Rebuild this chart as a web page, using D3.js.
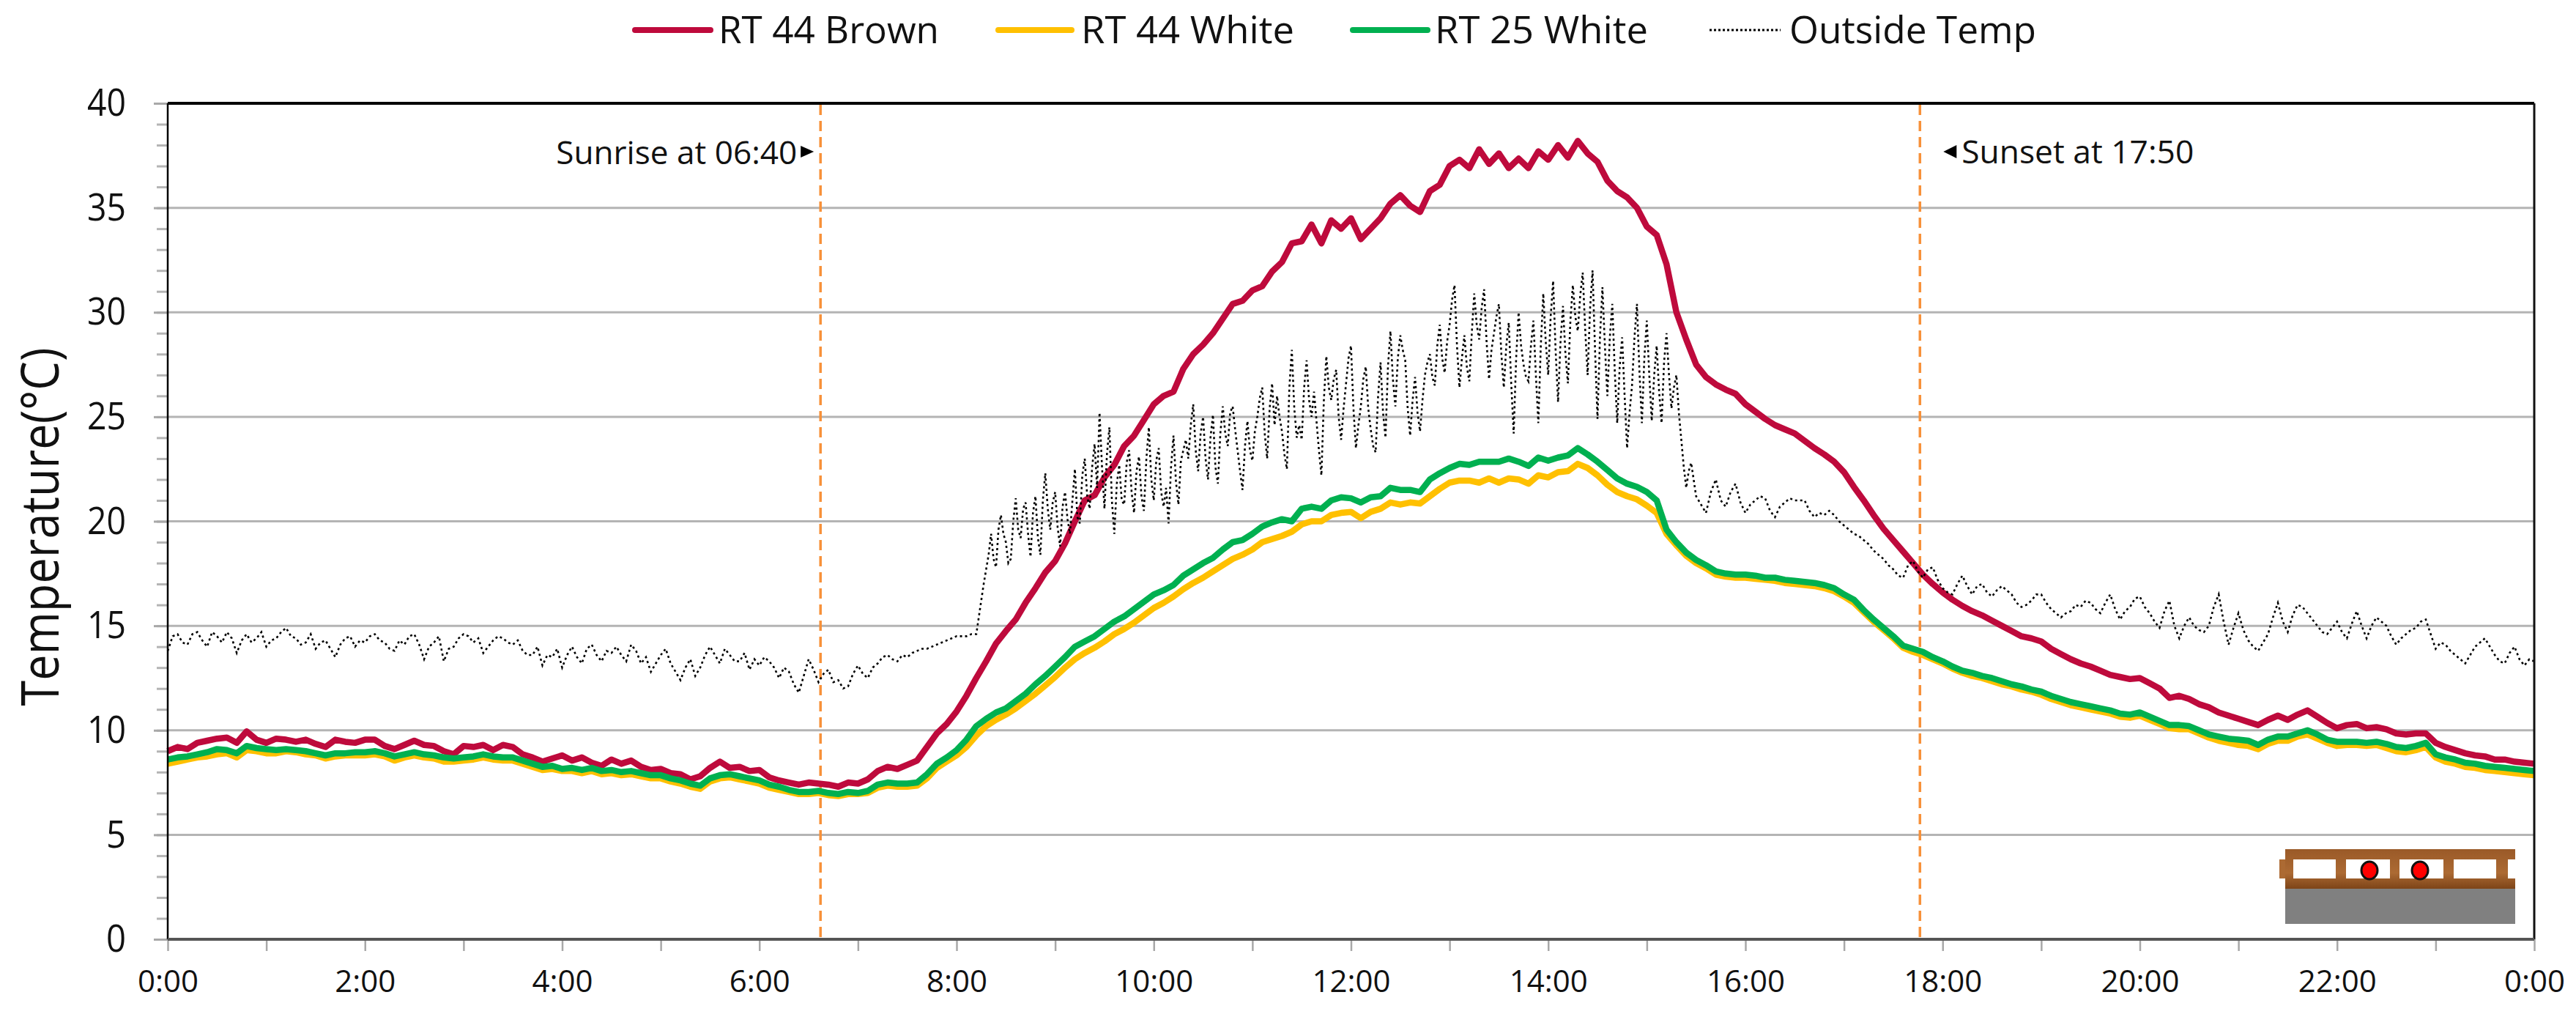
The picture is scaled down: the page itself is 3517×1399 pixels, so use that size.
<!DOCTYPE html>
<html>
<head>
    <meta charset="utf-8">
    <script src="https://d3js.org/d3.v7.min.js"></script>
    <style>
        html, body { margin: 0; padding: 0; background: #fff; }
        svg { display: block; }
        text { font-family: "Open Sans", sans-serif; fill: #111; }
    </style>
</head>
<body>
    <svg id="chart" width="3517" height="1399"></svg>
    <script>
        // values, one row = one hour, 6 minute steps
        var brown = [
            9.0,9.2,9.1,9.4,9.5,9.6,9.65,9.4,9.95,9.55,
            9.4,9.6,9.55,9.45,9.55,9.35,9.2,9.55,9.45,9.4,
            9.55,9.55,9.25,9.1,9.3,9.5,9.3,9.25,9.0,8.85,
            9.25,9.2,9.3,9.05,9.3,9.2,8.85,8.7,8.5,8.65,
            8.8,8.55,8.7,8.45,8.3,8.6,8.4,8.55,8.25,8.1,
            8.15,7.95,7.9,7.65,7.8,8.2,8.5,8.2,8.25,8.05,
            8.1,7.75,7.6,7.5,7.4,7.5,7.45,7.4,7.3,7.5,
            7.45,7.65,8.05,8.25,8.15,8.35,8.55,9.2,9.85,10.3,
            10.9,11.65,12.5,13.3,14.15,14.75,15.3,16.1,16.8,17.55,
            18.1,18.95,20.0,21.0,21.25,22.1,22.7,23.6,24.1,24.85,
            25.6,26.0,26.2,27.3,28.0,28.45,29.0,29.7,30.4,30.55,
            31.05,31.25,31.95,32.4,33.3,33.4,34.2,33.3,34.4,34.0,
            34.5,33.5,34.0,34.5,35.2,35.6,35.1,34.8,35.8,36.1,
            37.0,37.3,36.9,37.8,37.1,37.6,36.9,37.35,36.9,37.7,
            37.3,38.0,37.4,38.2,37.6,37.2,36.3,35.8,35.5,35.0,
            34.1,33.7,32.3,30.0,28.7,27.5,26.9,26.55,26.3,26.1,
            25.6,25.25,24.9,24.6,24.4,24.2,23.85,23.5,23.2,22.85,
            22.35,21.65,21.0,20.3,19.65,19.1,18.55,18.0,17.45,17.0,
            16.6,16.25,15.95,15.7,15.5,15.25,15.0,14.75,14.5,14.4,
            14.25,13.9,13.65,13.4,13.2,13.05,12.85,12.65,12.55,12.45,
            12.5,12.25,12.0,11.55,11.65,11.5,11.25,11.1,10.85,10.7,
            10.55,10.4,10.25,10.5,10.7,10.5,10.75,10.95,10.65,10.35,
            10.1,10.25,10.3,10.1,10.15,10.05,9.85,9.8,9.85,9.85,
            9.4,9.2,9.05,8.9,8.8,8.75,8.6,8.6,8.5,8.45,
            8.4
        ];
        var white44 = [
            8.4,8.5,8.6,8.7,8.75,8.85,8.9,8.7,9.05,9.0,
            8.9,8.9,9.0,8.95,8.85,8.8,8.65,8.75,8.8,8.8,
            8.8,8.85,8.75,8.55,8.7,8.8,8.7,8.65,8.5,8.5,
            8.55,8.6,8.7,8.6,8.55,8.55,8.4,8.25,8.1,8.15,
            8.05,8.05,7.95,8.05,7.9,7.95,7.85,7.9,7.8,7.7,
            7.7,7.55,7.45,7.3,7.2,7.55,7.7,7.75,7.65,7.55,
            7.45,7.25,7.15,7.05,6.95,6.95,7.0,6.9,6.85,6.95,
            6.95,7.0,7.25,7.35,7.3,7.3,7.35,7.7,8.2,8.5,
            8.8,9.2,9.75,10.2,10.5,10.75,11.05,11.4,11.75,12.15,
            12.55,13.0,13.4,13.7,13.95,14.25,14.6,14.85,15.15,15.5,
            15.85,16.1,16.4,16.75,17.05,17.3,17.6,17.9,18.2,18.4,
            18.65,19.0,19.15,19.3,19.5,19.85,20.0,20.0,20.3,20.4,
            20.45,20.15,20.45,20.6,20.9,20.8,20.9,20.85,21.2,21.55,
            21.85,21.95,21.95,21.85,22.05,21.85,22.05,22.0,21.8,22.2,
            22.1,22.35,22.4,22.75,22.55,22.2,21.75,21.4,21.2,21.05,
            20.75,20.4,19.4,18.85,18.35,18.0,17.75,17.45,17.35,17.3,
            17.3,17.25,17.2,17.15,17.05,17.0,16.95,16.9,16.8,16.65,
            16.4,16.1,15.65,15.2,14.8,14.4,13.95,13.75,13.6,13.4,
            13.2,12.95,12.75,12.6,12.5,12.35,12.2,12.1,11.95,11.85,
            11.7,11.5,11.35,11.2,11.1,11.0,10.9,10.8,10.65,10.6,
            10.7,10.5,10.3,10.1,10.05,10.05,9.85,9.65,9.5,9.4,
            9.3,9.25,9.1,9.35,9.5,9.5,9.7,9.8,9.6,9.4,
            9.25,9.3,9.3,9.25,9.3,9.15,9.0,8.95,9.05,9.2,
            8.7,8.5,8.4,8.25,8.2,8.1,8.05,8.0,7.95,7.9,
            7.85
        ];
        var white25 = [
            8.6,8.7,8.75,8.85,8.95,9.1,9.05,8.9,9.25,9.15,
            9.1,9.05,9.1,9.05,9.0,8.9,8.8,8.9,8.9,8.95,
            8.95,9.0,8.9,8.75,8.85,8.95,8.85,8.8,8.7,8.65,
            8.7,8.75,8.85,8.75,8.7,8.7,8.55,8.4,8.25,8.3,
            8.15,8.2,8.1,8.2,8.05,8.1,8.0,8.05,7.95,7.85,
            7.85,7.7,7.6,7.45,7.35,7.7,7.85,7.9,7.8,7.7,
            7.6,7.4,7.3,7.15,7.05,7.05,7.1,7.0,6.95,7.05,
            7.0,7.1,7.4,7.5,7.45,7.45,7.5,7.9,8.4,8.7,
            9.05,9.55,10.2,10.55,10.85,11.05,11.4,11.75,12.2,12.6,
            13.05,13.5,14.0,14.25,14.5,14.85,15.2,15.45,15.8,16.15,
            16.5,16.7,16.95,17.4,17.7,18.0,18.25,18.65,19.0,19.1,
            19.4,19.75,19.95,20.1,20.0,20.6,20.7,20.6,21.0,21.15,
            21.1,20.9,21.15,21.2,21.6,21.5,21.5,21.4,22.0,22.3,
            22.55,22.75,22.7,22.85,22.85,22.85,23.0,22.85,22.65,23.05,
            22.9,23.05,23.15,23.5,23.2,22.85,22.45,22.05,21.8,21.65,
            21.4,21.0,19.6,19.0,18.5,18.15,17.9,17.6,17.5,17.45,
            17.45,17.4,17.3,17.3,17.2,17.15,17.1,17.05,16.95,16.8,
            16.5,16.25,15.75,15.3,14.9,14.5,14.05,13.9,13.75,13.5,
            13.3,13.05,12.85,12.75,12.6,12.5,12.35,12.2,12.1,11.95,
            11.85,11.65,11.5,11.35,11.25,11.15,11.05,10.95,10.8,10.75,
            10.85,10.65,10.45,10.25,10.25,10.2,10.0,9.8,9.7,9.6,
            9.55,9.5,9.3,9.55,9.7,9.7,9.85,10.0,9.8,9.55,
            9.45,9.45,9.45,9.4,9.45,9.35,9.2,9.15,9.25,9.4,
            8.85,8.7,8.6,8.45,8.4,8.3,8.25,8.2,8.15,8.1,
            8.05
        ];

        // outside temp: night 0:00-8:12, about every 3 min
        var outsideNight = [
            13.8,14.5,14.6,14.2,14.1,14.6,14.7,14.3,14.0,14.7,14.5,14.2,14.7,14.4,13.7,14.3,14.6,14.2,14.4,14.7,
            14.0,14.3,14.4,14.7,14.9,14.5,14.4,14.1,14.2,14.6,13.9,14.2,14.3,13.9,13.5,14.1,14.4,14.5,14.0,14.3,
            14.2,14.5,14.6,14.3,14.2,13.9,13.8,14.3,14.1,14.5,14.6,14.1,13.4,14.0,14.2,14.5,13.3,13.9,14.0,14.4,
            14.6,14.5,14.2,14.4,13.7,14.0,14.3,14.5,14.4,14.2,14.1,14.3,13.8,13.6,13.6,14.0,13.1,13.6,13.5,13.9,
            13.0,13.6,14.0,13.5,13.2,13.9,14.1,13.6,13.3,13.8,13.7,14.0,13.6,13.3,14.1,13.8,13.2,13.5,12.8,13.2,
            13.6,13.9,13.2,12.8,12.4,13.0,13.4,12.6,13.0,13.6,14.0,13.6,13.2,13.9,13.6,13.3,13.3,13.7,12.9,13.4,
            13.1,13.5,13.3,13.0,12.5,13.0,12.8,12.2,11.8,12.6,13.4,12.9,12.3,12.7,12.9,12.3,12.4,12.0,12.1,12.7,
            13.1,12.7,12.5,13.0,13.2,13.5,13.6,13.4,13.3,13.6,13.5,13.7,13.8,13.9,13.9,14.0,14.1,14.2,14.3,14.4,
            14.5,14.5,14.5,14.6,14.6
        ];
        // daytime 8:15-15:30, about every 90 s, it swings a lot here
        var outsideDay = [
            16.2,17.0,17.7,18.4,19.4,18.2,17.8,19.6,20.3,19.4,19.0,18.0,18.2,20.0,21.1,19.6,19.2,20.6,20.9,19.4,
            18.3,20.4,21.2,19.2,18.4,21.0,22.3,20.6,19.6,20.9,21.4,19.7,18.8,20.7,21.4,20.1,19.4,21.0,22.5,20.2,
            19.9,22.2,23.0,21.2,20.6,22.6,23.7,21.6,25.2,22.6,20.6,23.2,24.5,21.0,19.4,21.8,22.7,21.0,20.8,22.8,
            23.4,21.4,20.4,22.4,23.1,21.2,20.5,23.0,24.5,22.0,21.0,22.9,23.5,21.4,20.7,21.6,19.9,22.6,24.1,21.9,
            20.8,22.9,23.4,23.9,23.0,24.6,25.6,23.4,22.4,24.2,25.0,23.0,22.0,24.0,25.1,22.6,21.8,24.2,25.5,24.2,
            23.6,25.2,25.5,24.4,23.4,22.4,21.5,23.6,24.8,23.4,22.9,24.3,25.0,25.9,26.4,24.2,23.0,25.4,26.6,24.6,
            26.0,25.0,24.3,23.2,22.5,26.4,28.2,25.4,24.0,24.6,23.9,26.4,27.7,25.8,25.0,26.2,24.8,23.4,22.2,25.8,
            27.9,26.4,25.8,26.8,27.25,25.0,23.9,25.4,26.6,27.8,28.4,25.4,23.5,24.6,25.5,26.8,27.4,25.4,24.4,23.6,
            23.3,26.0,27.6,25.2,24.0,27.4,29.1,26.8,25.5,27.8,28.9,28.2,27.7,25.4,24.1,25.8,26.9,25.2,24.3,25.8,
            27.0,27.6,28.0,26.9,26.5,28.4,29.4,27.8,27.1,28.6,29.4,30.6,31.3,28.4,26.4,27.8,28.9,27.4,26.7,29.0,
            30.9,29.4,28.7,30.2,31.1,28.6,26.8,28.2,29.0,29.8,30.4,28.0,26.4,28.4,29.5,26.6,24.2,27.8,30.0,28.4,
            27.5,26.9,26.7,28.4,29.6,27.0,24.7,28.4,30.9,28.6,27.0,29.8,31.5,28.2,25.7,28.6,30.3,28.0,26.6,29.6,
            31.3,29.8,29.1,30.8,31.9,29.2,27.0,30.2,32.0,28.2,24.9,28.8,31.2,28.4,26.0,28.8,30.4,27.2,24.7,27.4,
            28.8,26.0,23.5,25.2,26.5,28.8,30.4,27.2,24.7,27.8,29.6,27.0,24.8,27.0,28.4,26.2,24.7,27.6,29.0,27.0,
            25.4,26.4,27.0,25.2,23.9,22.6,21.6,22.4,22.8,22.0,21.2
        ];
        // evening 15:36-24:00, about every 3 min
        var outsideEvening = [
            20.4,21.4,22.0,21.0,20.7,21.4,21.8,20.9,20.4,20.8,21.0,21.2,21.1,20.5,20.2,20.7,20.9,21.1,21.0,21.0,
            21.0,20.5,20.2,20.4,20.3,20.5,20.3,20.0,19.8,19.6,19.4,19.3,19.1,18.9,18.6,18.4,18.2,17.9,17.7,17.4,
            17.3,17.9,18.1,17.6,17.3,17.7,17.8,17.2,16.8,16.6,16.5,17.0,17.4,16.9,16.5,16.9,17.0,16.6,16.4,16.7,
            16.9,16.7,16.5,16.1,15.9,16.0,16.2,16.5,16.5,16.1,15.8,15.6,15.4,15.6,15.7,16.0,15.9,16.2,16.1,15.8,
            15.6,16.1,16.5,15.8,15.3,15.7,15.9,16.3,16.4,15.9,15.6,15.2,14.9,15.7,16.2,15.0,14.4,15.0,15.4,15.0,
            14.8,14.7,15.0,15.9,16.5,15.2,14.1,14.9,15.6,14.8,14.3,14.0,13.8,14.2,14.6,15.4,16.1,15.2,14.7,15.5,
            16.0,15.9,15.6,15.3,15.0,14.7,14.6,14.9,15.2,14.7,14.4,15.1,15.7,15.0,14.4,15.0,15.4,15.2,15.0,14.5,
            14.1,14.4,14.6,14.8,14.9,15.2,15.3,14.6,13.9,14.2,14.1,13.8,13.6,13.4,13.2,13.6,14.0,14.2,14.4,14.0,
            13.6,13.3,13.2,13.7,14.0,13.4,13.1,13.4,13.3
        ];

        var seriesNames = ["RT 44 Brown", "RT 44 White", "RT 25 White", "Outside Temp"];
        var seriesColors = ["#BE0A3C", "#FFC000", "#00B050", "#000"];
        var yMajor = d3.range(0, 41, 5);
        var yMinor = d3.range(0, 41, 1);
        var xHours = d3.range(0, 25, 1);
        var sunriseHour = 6.62, sunsetHour = 17.77;

        var x = d3.scaleLinear().domain([0, 24]).range([229, 3460]);
        var y = d3.scaleLinear().domain([0, 40]).range([1282, 141]);

        var svg = d3.select("#chart");

        // gridlines
        svg.append("g").selectAll("line")
            .data(yMajor.filter(function(d) { return d > 0 && d < 40; }))
            .enter().append("line")
            .attr("x1", x(0)).attr("x2", x(24))
            .attr("y1", function(d) { return y(d); })
            .attr("y2", function(d) { return y(d); })
            .attr("stroke", "#b4b4b4").attr("stroke-width", 3);

        // y axis, minor then major
        var yMinorAxis = d3.axisLeft(y).tickValues(yMinor).tickSize(15).tickFormat("");
        var yMajorAxis = d3.axisLeft(y).tickValues(yMajor).tickSize(19).tickPadding(38);
        var gMinor = svg.append("g").attr("transform", "translate(229,0)").call(yMinorAxis);
        var gMajor = svg.append("g").attr("transform", "translate(229,0)").call(yMajorAxis);
        gMinor.select(".domain").remove();
        gMajor.select(".domain").remove();
        gMinor.selectAll("line").attr("stroke", "#b4b4b4").attr("stroke-width", 3);
        gMajor.selectAll("line").attr("stroke", "#a8a8a8").attr("stroke-width", 3);
        gMajor.selectAll("text")
            .style("font-family", '"Open Sans", sans-serif')
            .style("font-size", "52px")
            .attr("textLength", function(d) { return d < 10 ? 27 : 53; })
            .attr("lengthAdjust", "spacingAndGlyphs");

        // x axis
        var xAxis = d3.axisBottom(x).tickValues(xHours).tickSize(16).tickPadding(26)
            .tickFormat(function(d) { return d % 2 == 0 ? (d % 24) + ":00" : ""; });
        var gx = svg.append("g").attr("transform", "translate(0,1282)").call(xAxis);
        gx.select(".domain").remove();
        gx.selectAll("line").attr("stroke", "#a8a8a8").attr("stroke-width", 2.5);
        gx.selectAll("text")
            .style("font-family", '"Open Sans", sans-serif')
            .style("font-size", "42px");

        // sunrise, sunset
        [sunriseHour, sunsetHour].forEach(function(h) {
            svg.append("line")
                .attr("x1", x(h)).attr("x2", x(h))
                .attr("y1", 143).attr("y2", 1282)
                .attr("stroke", "#F79139").attr("stroke-width", 3.5)
                .attr("stroke-dasharray", "14 8");
        });
        svg.append("path")
            .attr("d", "M" + (x(sunriseHour) - 9) + ",207l-18,-8v16z")
            .attr("fill", "#000");
        svg.append("path")
            .attr("d", "M" + (x(sunsetHour) + 32) + ",207l18,-9v18z")
            .attr("fill", "#000");
        svg.append("text").text("Sunrise at 06:40")
            .attr("x", x(sunriseHour) - 32).attr("y", 224)
            .attr("text-anchor", "end").attr("font-size", 44)
            .attr("textLength", 329).attr("lengthAdjust", "spacingAndGlyphs");
        svg.append("text").text("Sunset at 17:50")
            .attr("x", x(sunsetHour) + 57).attr("y", 223)
            .attr("font-size", 44)
            .attr("textLength", 317).attr("lengthAdjust", "spacingAndGlyphs");

        // little wall section, bottom right
        var inset = svg.append("g");
        var wood = inset.append("defs").append("linearGradient")
            .attr("id", "wood").attr("x1", "0").attr("x2", "0").attr("y1", "0").attr("y2", "1");
        wood.append("stop").attr("offset", "0%").attr("stop-color", "#9a5a28");
        wood.append("stop").attr("offset", "60%").attr("stop-color", "#ac6a33");
        wood.append("stop").attr("offset", "100%").attr("stop-color", "#7d4418");
        inset.append("rect").attr("x", 3120).attr("y", 1213).attr("width", 314).attr("height", 48).attr("fill", "#808080");
        inset.append("rect").attr("x", 3120).attr("y", 1159).attr("width", 314).attr("height", 54).attr("fill", "url(#wood)");
        inset.append("rect").attr("x", 3112).attr("y", 1173).attr("width", 8).attr("height", 26).attr("fill", "#ac6a33");
        [[3131, 58], [3203, 60], [3276, 60], [3350, 58], [3424, 10]].forEach(function(w) {
            inset.append("rect").attr("x", w[0]).attr("y", 1173).attr("width", w[1]).attr("height", 26).attr("fill", "#fff");
        });
        [3235, 3304].forEach(function(cx) {
            inset.append("ellipse").attr("cx", cx).attr("cy", 1188).attr("rx", 11).attr("ry", 12)
                .attr("fill", "#f00").attr("stroke", "#111").attr("stroke-width", 3);
        });

        // series, each stretch of outside temp runs between its own two hours
        function spread(values, from, to) {
            return values.map(function(v, i) {
                return { h: from + (to - from) * i / (values.length - 1), v: v };
            });
        }
        var outside = spread(outsideNight, 0, 8.2)
            .concat(spread(outsideDay, 8.25, 15.5))
            .concat(spread(outsideEvening, 15.6, 24));

        var line = d3.line()
            .x(function(d) { return x(d.h); })
            .y(function(d) { return y(d.v); });

        [brown, white44, white25].forEach(function(s, i) {
            svg.append("path")
                .datum(spread(s, 0, 24))
                .attr("d", line)
                .attr("fill", "none")
                .attr("stroke", seriesColors[i])
                .attr("stroke-width", 8.5)
                .attr("stroke-linejoin", "round");
        });
        svg.append("path")
            .datum(outside)
            .attr("d", line)
            .attr("fill", "none")
            .attr("stroke", seriesColors[3])
            .attr("stroke-width", 2.6)
            .attr("stroke-dasharray", "3 4");

        // frame
        svg.append("line").attr("x1", 229).attr("x2", 3460).attr("y1", 141).attr("y2", 141).attr("stroke", "#000").attr("stroke-width", 4);
        svg.append("line").attr("x1", 229).attr("x2", 229).attr("y1", 141).attr("y2", 1282).attr("stroke", "#000").attr("stroke-width", 2.5);
        svg.append("line").attr("x1", 3460).attr("x2", 3460).attr("y1", 141).attr("y2", 1282).attr("stroke", "#111").attr("stroke-width", 3);
        svg.append("line").attr("x1", 229).attr("x2", 3460).attr("y1", 1282).attr("y2", 1282).attr("stroke", "#555").attr("stroke-width", 4);

        // y title
        svg.append("text").text("Temperature(°C)")
            .attr("transform", "translate(80,719) rotate(-90)")
            .attr("text-anchor", "middle")
            .attr("font-size", 72)
            .attr("textLength", 489).attr("lengthAdjust", "spacingAndGlyphs");

        // legend
        var legendX = [867, 1363, 1847, 2334];
        var legendLen = [103, 100, 102, 97];
        var legendText = [981, 1476, 1959, 2443];
        var legendWidth = [301, 291, 291, 337];
        seriesNames.forEach(function(name, i) {
            var isDot = i == 3;
            svg.append("line")
                .attr("x1", legendX[i]).attr("x2", legendX[i] + legendLen[i])
                .attr("y1", 41).attr("y2", 41)
                .attr("stroke", seriesColors[i])
                .attr("stroke-width", isDot ? 3 : 8)
                .attr("stroke-dasharray", isDot ? "3 3" : null)
                .attr("stroke-linecap", isDot ? "butt" : "round");
            svg.append("text").text(name)
                .attr("x", legendText[i]).attr("y", 59)
                .attr("font-size", 52)
                .attr("textLength", legendWidth[i]).attr("lengthAdjust", "spacingAndGlyphs");
        });
    </script>
</body>
</html>
